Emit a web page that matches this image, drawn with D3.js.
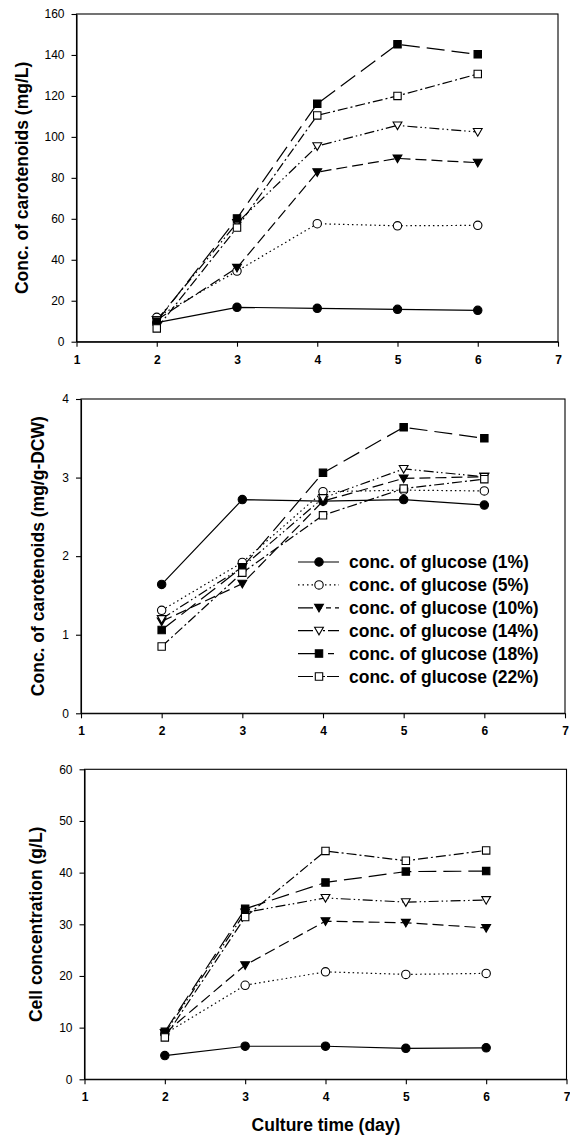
<!DOCTYPE html>
<html>
<head>
<meta charset="utf-8">
<script src="https://cdn.jsdelivr.net/npm/d3@7/dist/d3.min.js"></script>
<style>
  html, body { margin: 0; padding: 0; background: #fff; }
  svg { display: block; font-family: "Liberation Sans", Arial, sans-serif; }
</style>
</head>
<body>
<svg id="chart" width="570" height="1136"></svg>
<script>
// Culture days on which samples were taken
const days = [2, 3, 4, 5, 6];
// Glucose concentration of each culture (legend labels)
const glucoseLevels = ["conc. of glucose (1%)", "conc. of glucose (5%)", "conc. of glucose (10%)",
                       "conc. of glucose (14%)", "conc. of glucose (18%)", "conc. of glucose (22%)"];

// Volumetric carotenoid concentration (mg/L), one row per glucose level
const carotenoidsMgL = [
  [9.3, 16.8, 16.3, 15.8, 15.3],
  [11.9, 34.5, 57.6, 56.6, 56.8],
  [10.6, 36.1, 82.8, 89.5, 87.4],
  [10.5, 58.0, 95.5, 105.6, 102.4],
  [9.8, 60.2, 116.2, 145.2, 140.3],
  [6.5, 55.7, 110.5, 120.0, 130.7]
];
// Carotenoid content per dry cell weight (mg/g-DCW)
const carotenoidsMgG = [
  [1.64, 2.72, 2.70, 2.72, 2.65],
  [1.31, 1.92, 2.82, 2.84, 2.83],
  [1.17, 1.65, 2.70, 2.99, 3.01],
  [1.20, 1.86, 2.74, 3.11, 3.01],
  [1.06, 1.86, 3.06, 3.64, 3.50],
  [0.85, 1.79, 2.52, 2.86, 2.98]
];
// Cell concentration (g/L)
const cellGL = [
  [4.6, 6.4, 6.4, 6.0, 6.1],
  [8.8, 18.2, 20.8, 20.3, 20.5],
  [8.9, 22.1, 30.6, 30.3, 29.3],
  [8.9, 32.3, 35.1, 34.3, 34.7],
  [9.2, 33.0, 38.1, 40.2, 40.3],
  [8.1, 31.4, 44.2, 42.3, 44.3]
];

// Tick values
const xTicks = [1, 2, 3, 4, 5, 6, 7];
const yTicksMgL = [0, 20, 40, 60, 80, 100, 120, 140, 160];
const yTicksMgG = [0, 1, 2, 3, 4];
const yTicksCell = [0, 10, 20, 30, 40, 50, 60];

// Line and marker style for each glucose level
const styles = [
  { dash: null,               legendDash: null,                 marker: "circle",   fill: "#000" },
  { dash: "1.5,3",            legendDash: "1.5,3",              marker: "circle",   fill: "#fff" },
  { dash: "11,5",             legendDash: "15,4,5,4,5,4,5",     marker: "triangle", fill: "#000" },
  { dash: "10,3,1.5,3,1.5,3", legendDash: "15,10,2,3,11",       marker: "triangle", fill: "#fff" },
  { dash: "18,7",             legendDash: "19,11,6,100",        marker: "square",   fill: "#000" },
  { dash: "10,3,2,3",         legendDash: "15,10,2,2,12",       marker: "square",   fill: "#fff" }
];

const svg = d3.select("#chart");

function markerPath(type) {
  const p = d3.path();
  if (type === "circle") {
    p.arc(0, 0, 4.2, 0, 2 * Math.PI);
  } else if (type === "square") {
    p.rect(-3.7, -3.7, 7.4, 7.4);
  } else {
    p.moveTo(-4.4, -3.4); p.lineTo(4.4, -3.4); p.lineTo(0, 4.2); p.closePath();
  }
  return p.toString();
}

function drawPanel(cfg) {
  const x = d3.scaleLinear().domain([1, 7]).range([cfg.left, cfg.right]);
  const y = d3.scaleLinear().domain([0, cfg.yMax]).range([cfg.bottom, cfg.top]);
  const g = svg.append("g");

  // frame
  g.append("rect")
    .attr("x", cfg.left).attr("y", cfg.top)
    .attr("width", cfg.right - cfg.left).attr("height", cfg.bottom - cfg.top)
    .attr("fill", "none").attr("stroke", "#000").attr("stroke-width", 1.1);

  const xAxis = g.append("g")
    .attr("transform", `translate(0,${cfg.bottom})`)
    .call(d3.axisBottom(x).tickValues(xTicks).tickFormat(d3.format("d"))
      .tickSize(5).tickSizeOuter(0).tickPadding(cfg.xPad));
  xAxis.selectAll("text").attr("font-size", 12).attr("font-weight", "bold")
    .attr("font-family", "Liberation Sans, Arial, sans-serif").attr("fill", "#000");

  const yAxis = g.append("g")
    .attr("transform", `translate(${cfg.left},0)`)
    .call(d3.axisLeft(y).tickValues(cfg.yTicks).tickFormat(d3.format("d"))
      .tickSize(5).tickSizeOuter(0).tickPadding(7));
  yAxis.selectAll("text").attr("font-size", 12)
    .attr("font-family", "Liberation Sans, Arial, sans-serif").attr("fill", "#000");
  g.selectAll(".domain").attr("stroke", "#000").attr("stroke-width", 1.1);
  g.selectAll(".tick line").attr("stroke", "#000").attr("stroke-width", 1.1);

  // y title
  g.append("text")
    .attr("transform", `translate(${cfg.titleX},${(cfg.top + cfg.bottom) / 2}) rotate(-90)`)
    .attr("text-anchor", "middle").attr("dy", "0.35em")
    .attr("font-size", 17.5).attr("font-weight", "bold")
    .text(cfg.yTitle);

  const line = d3.line().x((d, i) => x(days[i])).y(d => y(d));

  cfg.data.forEach((vals, s) => {
    const st = styles[s];
    g.append("path")
      .attr("d", line(vals))
      .attr("fill", "none").attr("stroke", "#000").attr("stroke-width", 1.2)
      .attr("stroke-dasharray", st.dash);
  });
  cfg.data.forEach((vals, s) => {
    const st = styles[s];
    g.selectAll(null).data(vals).enter().append("path")
      .attr("d", markerPath(st.marker))
      .attr("transform", (d, i) => `translate(${x(days[i])},${y(d)})`)
      .attr("fill", st.fill).attr("stroke", "#000").attr("stroke-width", 1.1);
  });
  return { x, y, g };
}

drawPanel({ left: 76.5, right: 558, top: 14, bottom: 341.7, yMax: 160, yTicks: yTicksMgL,
  data: carotenoidsMgL, yTitle: "Conc. of carotenoids (mg/L)", titleX: 22, xPad: 9 });

drawPanel({ left: 81, right: 565, top: 399, bottom: 713.3, yMax: 4, yTicks: yTicksMgG,
  data: carotenoidsMgG, yTitle: "Conc. of carotenoids (mg/g-DCW)", titleX: 38, xPad: 8.5 });

drawPanel({ left: 84.5, right: 566.5, top: 769.3, bottom: 1079.3, yMax: 60, yTicks: yTicksCell,
  data: cellGL, yTitle: "Cell concentration (g/L)", titleX: 36, xPad: 8 });

// x title under the bottom panel
svg.append("text")
  .attr("x", 326).attr("y", 1131)
  .attr("text-anchor", "middle")
  .attr("font-size", 17.5).attr("font-weight", "bold")
  .text("Culture time (day)");

// legend inside the middle panel
const legend = svg.append("g");
glucoseLevels.forEach((label, i) => {
  const cy = 562 + i * 22.9;
  const st = styles[i];
  legend.append("line")
    .attr("x1", 298).attr("x2", 339).attr("y1", cy).attr("y2", cy)
    .attr("stroke", "#000").attr("stroke-width", 1.2)
    .attr("stroke-dasharray", st.legendDash);
  legend.append("path")
    .attr("d", markerPath(st.marker))
    .attr("transform", `translate(319,${cy})`)
    .attr("fill", st.fill).attr("stroke", "#000").attr("stroke-width", 1.1);
  legend.append("text")
    .attr("x", 349).attr("y", cy).attr("dy", "0.36em")
    .attr("font-size", 17.5).attr("font-weight", "bold")
    .text(label);
});
</script>
</body>
</html>
